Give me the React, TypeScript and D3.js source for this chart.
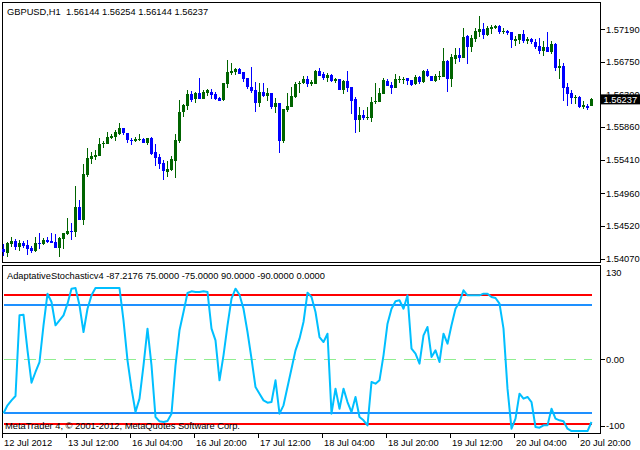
import React from "react";
import * as d3 from "d3";

const openP = [
1.54203,1.54152,1.54275,1.54311,1.54234,1.54284,1.54257,1.54212,1.54179,1.54284,
1.54271,1.54325,1.54315,1.54298,1.54220,1.54343,1.54411,1.54452,1.54438,1.54774,
1.54601,1.55209,1.55431,1.55454,1.55471,1.55631,1.55635,1.55716,1.55726,1.55767,
1.55848,1.55780,1.55689,1.55667,1.55689,1.55703,1.55648,1.55716,1.55522,1.55454,
1.55372,1.55250,1.55277,1.55403,1.55676,1.56066,1.56151,1.56311,1.56243,1.56324,
1.56247,1.56328,1.56342,1.56315,1.56256,1.56229,1.56451,1.56596,1.56610,1.56651,
1.56606,1.56528,1.56410,1.56365,1.56192,1.56334,1.56287,1.56328,1.56138,1.56188,
1.55676,1.56093,1.56138,1.56274,1.56443,1.56456,1.56515,1.56451,1.56451,1.56627,
1.56587,1.56528,1.56569,1.56483,1.56515,1.56365,1.56487,1.56406,1.56243,1.55957,
1.56025,1.55988,1.55988,1.56198,1.56206,1.56315,1.56483,1.56437,1.56396,1.56501,
1.56505,1.56528,1.56501,1.56443,1.56546,1.56474,1.56623,1.56555,1.56487,1.56542,
1.56546,1.56759,1.56515,1.56782,1.56841,1.56804,1.57103,1.56954,1.57063,1.57158,
1.57195,1.57113,1.57195,1.57204,1.57240,1.57150,1.57172,1.57154,1.57031,1.57045,
1.57127,1.57027,1.57059,1.57022,1.56963,1.56895,1.56950,1.56882,1.56991,1.56664,
1.56691,1.56406,1.56324,1.56256,1.56270,1.56138,1.56147,1.56144
];

const highP = [
1.54271,1.54302,1.54362,1.54335,1.54321,1.54315,1.54321,1.54247,1.54362,1.54416,
1.54352,1.54362,1.54420,1.54403,1.54362,1.54424,1.54620,1.54560,1.55059,1.54865,
1.55359,1.55572,1.55518,1.55549,1.55712,1.55671,1.55790,1.55767,1.55817,1.55916,
1.55848,1.55784,1.55708,1.55722,1.55763,1.55716,1.55716,1.55726,1.55627,1.55491,
1.55409,1.55395,1.55471,1.55763,1.56229,1.56171,1.56365,1.56351,1.56342,1.56528,
1.56365,1.56383,1.56379,1.56338,1.56274,1.56464,1.56773,1.56736,1.56664,1.56660,
1.56610,1.56528,1.56678,1.56470,1.56464,1.56460,1.56388,1.56328,1.56252,1.56188,
1.56111,1.56328,1.56406,1.56470,1.56487,1.56555,1.56551,1.56501,1.56641,1.56668,
1.56606,1.56592,1.56579,1.56532,1.56515,1.56501,1.56627,1.56410,1.56274,1.56134,
1.56097,1.56130,1.56274,1.56464,1.56392,1.56528,1.56519,1.56470,1.56587,1.56551,
1.56546,1.56532,1.56501,1.56573,1.56560,1.56637,1.56651,1.56560,1.56583,1.56623,
1.56940,1.56769,1.56851,1.56936,1.56936,1.57212,1.57113,1.57117,1.57204,1.57375,
1.57276,1.57231,1.57253,1.57253,1.57253,1.57204,1.57185,1.57158,1.57099,1.57127,
1.57181,1.57082,1.57068,1.57059,1.57076,1.57027,1.57154,1.57036,1.57000,1.56782,
1.56732,1.56464,1.56365,1.56293,1.56283,1.56220,1.56175,1.56254
];

const lowP = [
1.54111,1.54098,1.54234,1.54189,1.54179,1.54212,1.54125,1.54152,1.54166,1.54203,
1.54257,1.54284,1.54280,1.54216,1.54094,1.54198,1.54393,1.54325,1.54370,1.54597,
1.54533,1.55182,1.55359,1.55413,1.55467,1.55580,1.55631,1.55699,1.55676,1.55753,
1.55757,1.55648,1.55621,1.55658,1.55671,1.55648,1.55617,1.55485,1.55336,1.55291,
1.55145,1.55182,1.55263,1.55172,1.55648,1.56002,1.56093,1.56198,1.56184,1.56239,
1.56239,1.56283,1.56239,1.56229,1.56215,1.56220,1.56396,1.56573,1.56573,1.56583,
1.56478,1.56383,1.56328,1.56070,1.56134,1.56266,1.56220,1.56111,1.56056,1.55512,
1.55648,1.56070,1.56134,1.56260,1.56328,1.56443,1.56406,1.56419,1.56447,1.56555,
1.56505,1.56474,1.56474,1.56460,1.56361,1.56307,1.56334,1.56043,1.55784,1.55798,
1.55957,1.55957,1.55934,1.56179,1.56198,1.56311,1.56415,1.56307,1.56388,1.56460,
1.56443,1.56437,1.56424,1.56437,1.56443,1.56464,1.56538,1.56487,1.56474,1.56505,
1.56538,1.56342,1.56410,1.56723,1.56746,1.56800,1.56723,1.56886,1.57022,1.57090,
1.57059,1.57103,1.57123,1.57191,1.57127,1.57131,1.57113,1.56940,1.56967,1.56987,
1.57008,1.56995,1.56987,1.56927,1.56859,1.56831,1.56878,1.56851,1.56623,1.56519,
1.56220,1.56151,1.56171,1.56171,1.56116,1.56102,1.56093,1.56144
];

const closeP = [
1.54158,1.54280,1.54311,1.54234,1.54284,1.54247,1.54198,1.54175,1.54284,1.54275,
1.54321,1.54302,1.54288,1.54220,1.54348,1.54420,1.54447,1.54438,1.54774,1.54601,
1.55223,1.55440,1.55467,1.55481,1.55631,1.55644,1.55726,1.55739,1.55794,1.55844,
1.55784,1.55681,1.55667,1.55703,1.55703,1.55648,1.55712,1.55495,1.55444,1.55363,
1.55259,1.55291,1.55423,1.55685,1.56066,1.56161,1.56311,1.56225,1.56328,1.56247,
1.56338,1.56365,1.56297,1.56247,1.56220,1.56460,1.56610,1.56623,1.56655,1.56587,
1.56515,1.56410,1.56347,1.56192,1.56334,1.56283,1.56328,1.56138,1.56192,1.55676,
1.56102,1.56147,1.56283,1.56447,1.56464,1.56515,1.56447,1.56470,1.56627,1.56560,
1.56528,1.56569,1.56483,1.56515,1.56365,1.56487,1.56396,1.56215,1.55957,1.56025,
1.55988,1.55998,1.56206,1.56211,1.56328,1.56501,1.56424,1.56392,1.56515,1.56519,
1.56519,1.56491,1.56433,1.56546,1.56470,1.56623,1.56551,1.56491,1.56555,1.56555,
1.56759,1.56515,1.56814,1.56841,1.56804,1.57086,1.56954,1.57072,1.57163,1.57195,
1.57117,1.57212,1.57226,1.57240,1.57158,1.57167,1.57140,1.57041,1.57059,1.57127,
1.57031,1.57063,1.57014,1.56950,1.56895,1.56950,1.56882,1.56991,1.56664,1.56691,
1.56396,1.56315,1.56256,1.56274,1.56138,1.56157,1.56124,1.56237
];

const stoch = [
-75,-64,-57.1,-51,61.3,62.2,12.5,-32.5,-17.6,-3.7,
47.4,91.4,79.8,47.4,54.3,61.3,77.5,98.4,99.3,75.2,
38.1,70.5,89.1,99.3,99.3,99.3,99.3,99.3,99.3,99.3,
54.3,-1.4,-40.8,-73.3,-54.7,-8.3,42.7,-8.3,-80.3,-86.3,
-87.2,-85.8,-75.6,-8.3,40.4,65.9,92.4,94.7,93.8,93.8,
94.7,93.8,42.7,26.5,-29.2,5.6,47.4,84.5,98.4,90.0,
70.5,38.1,0.9,-38.5,-47.8,-57.1,-60.3,-59.4,-29.2,-75.6,
-64.0,-38.5,-13.0,12.5,28.8,52.0,92.8,86.8,65.9,31.1,
24.1,35.7,-75.6,-40.8,-68.7,-40.8,-59.4,-73.3,-52.4,-80.3,
-84.9,-91.9,-31.5,-33.9,-29.2,5.6,49.7,70.5,80.8,82.2,
70.5,89.1,14.9,7.9,-6.0,33.4,45.0,3.3,12.5,-3.7,
35.7,21.8,47.4,70.5,79.8,96.1,89.1,89.1,89.1,89.1,
91.4,91.4,86.8,85.4,77.5,42.7,-40.8,-96.5,-82.6,-47.8,
-54.7,-52.4,-59.4,-94.2,-95.1,-91.9,-91.9,-68.7,-82.6,-84.9,
-86.3,-96.5,-99.8,-99.8,-99.8,-99.8,-99.8,-87.2176
];

const priceTicks = [1.5719, 1.5675, 1.563, 1.5586, 1.5541, 1.5496, 1.5452, 1.5407];
const timeLabels = ["12 Jul 2012", "13 Jul 12:00", "16 Jul 04:00", "16 Jul 20:00", "17 Jul 12:00",
  "18 Jul 04:00", "18 Jul 20:00", "19 Jul 12:00", "20 Jul 04:00", "20 Jul 20:00"];
const levels = [
  { v: 0, color: "#90ee90", w: 1, dash: "12,8" },
  { v: 90, color: "#ff0000", w: 2, dash: "" },
  { v: -90, color: "#ff0000", w: 2, dash: "" },
  { v: 75, color: "#1e90ff", w: 2, dash: "" },
  { v: -75, color: "#1e90ff", w: 2, dash: "" },
];
const indLabels = [130, 0, -100];
const titleText = "GBPUSD,H1  1.56144 1.56254 1.56144 1.56237";
const indTitle = "AdaptativeStochasticv4 -87.2176 75.0000 -75.0000 90.0000 -90.0000 0.0000";
const copyright = "MetaTrader 4, \u00a9 2001-2012, MetaQuotes Software Corp.";

const FONT = "'Liberation Sans', Arial, sans-serif";
const FS = 9.3;

export default function App() {
  const n = openP.length;
  const x = d3.scaleLinear().domain([0, n - 1]).range([3.5, 3.5 + 4 * (n - 1)]);
  const y = d3.scaleLinear().domain([1.5407, 1.5719]).range([258.7, 29.3]);
  const yi = d3.scaleLinear().domain([-90, 90]).range([424, 294.7]);
  const line = d3.line<number>().x((_, i) => x(i)).y((d) => yi(d));
  const bull = "#006400";
  const bear = "#0000ff";
  const last = closeP[n - 1];
  const lvY = (l: { v: number; w: number }) =>
    l.w === 1 ? Math.round(yi(l.v)) + 0.5 : Math.round(yi(l.v));

  return (
    <svg width={640} height={450} style={{ position: "fixed", left: 0, top: 0, background: "#fff" }}
      fontFamily={FONT} fontSize={FS}>
      <rect x={0} y={0} width={640} height={450} fill="#fff" />
      {/* panel borders */}
      <rect x={2.5} y={2.5} width={598} height={260} fill="none" stroke="#000" strokeWidth={1} shapeRendering="crispEdges" />
      <rect x={2.5} y={265.5} width={598} height={168} fill="none" stroke="#000" strokeWidth={1} shapeRendering="crispEdges" />

      {/* indicator levels */}
      {levels.map((l, k) => (
        <line key={"lv" + k} x1={x(0)} x2={x(n - 1)} y1={lvY(l)} y2={lvY(l)}
          stroke={l.color} strokeWidth={l.w} strokeDasharray={l.dash || undefined} shapeRendering="crispEdges" />
      ))}
      <path d={line(stoch) || ""} fill="none" stroke="#00bfff" strokeWidth={2} strokeLinejoin="round" />

      {/* candles */}
      {openP.map((o, i) => {
        const c = closeP[i];
        const col = c >= o ? bull : bear;
        const yo = y(o), yc = y(c);
        const top = Math.min(yo, yc);
        const h = Math.max(1, Math.abs(yo - yc));
        return (
          <g key={"c" + i} shapeRendering="crispEdges">
            <line x1={x(i)} x2={x(i)} y1={y(highP[i])} y2={y(lowP[i])} stroke={col} strokeWidth={1} />
            <rect x={x(i) - 1.5} y={top} width={3} height={h} fill={col} />
          </g>
        );
      })}

      {/* price axis */}
      {priceTicks.map((p, k) => (
        <g key={"pt" + k}>
          <line x1={600.5} x2={604.5} y1={Math.round(y(p)) + 0.5} y2={Math.round(y(p)) + 0.5} stroke="#000" shapeRendering="crispEdges" />
          <text x={606} y={y(p)} dy="0.35em" fill="#000">{p.toFixed(5)}</text>
        </g>
      ))}
      <rect x={601} y={y(last) - 5} width={39} height={10} fill="#000" />
      <text x={603.5} y={y(last)} dy="0.35em" fill="#fff">{last.toFixed(5)}</text>

      {/* indicator axis */}
      {indLabels.map((v, k) => {
        const yy = Math.max(273, Math.min(425.5, yi(v)));
        return (
          <g key={"il" + k}>
            {v !== 130 && (
              <line x1={600.5} x2={604.5} y1={Math.round(yy) + 0.5} y2={Math.round(yy) + 0.5} stroke="#000" shapeRendering="crispEdges" />
            )}
            <text x={606} y={yy} dy="0.35em" fill="#000">{v === 0 ? "0.00" : String(v)}</text>
          </g>
        );
      })}

      {/* time axis */}
      {timeLabels.map((t, k) => (
        <g key={"tl" + k}>
          <line x1={x(k * 16) - 1} x2={x(k * 16) - 1} y1={433.5} y2={438} stroke="#000" shapeRendering="crispEdges" />
          <text x={x(k * 16) + 0.5} y={446} fill="#000">{t}</text>
        </g>
      ))}

      {/* titles */}
      <text x={7} y={15} fill="#000" style={{ whiteSpace: "pre" }}>{titleText}</text>
      <text x={7} y={278.5} fill="#000" style={{ whiteSpace: "pre" }}>{indTitle}</text>
      <text x={5} y={428.5} fill="#000" style={{ whiteSpace: "pre" }}>{copyright}</text>
    </svg>
  );
}
